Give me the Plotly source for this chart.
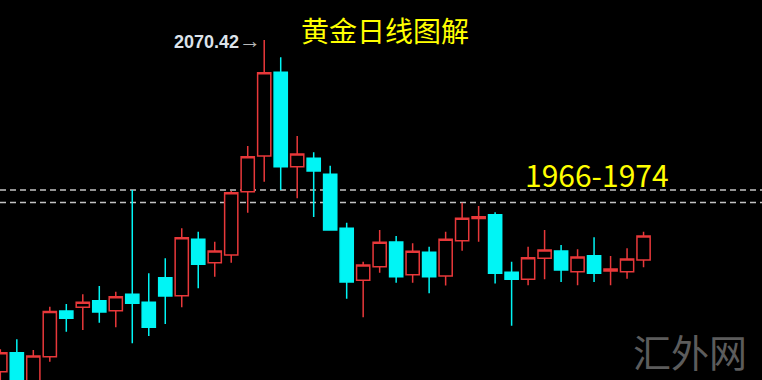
import plotly.graph_objects as go

# Daily gold candles (USD/oz)
opens  = [1857.2, 1869.4, 1845.4, 1866.8, 1896.2, 1898.6, 1902.8, 1896.4, 1906.9, 1901.8,
          1917.6, 1906.0, 1942.3, 1927.3, 1932.2, 1972.9, 1995.9, 2049.7, 1989.0, 1994.4,
          1984.1, 1949.4, 1915.9, 1924.7, 1940.6, 1919.5, 1933.9, 1918.7, 1941.4, 1955.6,
          1958.1, 1921.1, 1916.6, 1930.1, 1934.8, 1921.5, 1931.8, 1921.9, 1921.5, 1929.0]
highs  = [1871.6, 1878.0, 1871.1, 1899.0, 1900.7, 1906.9, 1912.3, 1908.6, 1974.0, 1920.4,
          1930.1, 1949.4, 1947.2, 1940.8, 1973.4, 2002.3, 2070.42, 2059.3, 2008.7, 1998.2,
          1989.6, 1953.0, 1927.9, 1948.3, 1944.4, 1939.7, 1937.5, 1947.2, 1965.8, 1963.7,
          1959.7, 1927.9, 1937.5, 1948.3, 1938.6, 1935.9, 1943.6, 1931.6, 1936.5, 1947.2]
lows   = [1848.6, 1839.0, 1842.2, 1863.6, 1882.9, 1884.0, 1888.7, 1885.7, 1875.4, 1880.1,
          1887.8, 1898.6, 1910.8, 1918.3, 1927.3, 1959.4, 1979.3, 1974.0, 1968.7, 1956.6,
          1947.8, 1904.1, 1892.2, 1920.8, 1914.4, 1914.4, 1907.6, 1912.6, 1935.0, 1940.8,
          1913.8, 1886.7, 1912.7, 1916.6, 1914.8, 1912.7, 1914.8, 1912.7, 1917.0, 1924.3]
closes = [1869.4, 1842.2, 1867.3, 1895.8, 1891.5, 1901.8, 1895.6, 1905.4, 1901.2, 1885.7,
          1905.8, 1943.3, 1926.2, 1934.8, 1972.3, 1995.4, 2049.4, 1989.0, 1997.2, 1986.2,
          1948.3, 1914.8, 1925.8, 1940.4, 1918.3, 1934.6, 1918.3, 1942.3, 1955.8, 1956.8,
          1920.4, 1916.6, 1930.5, 1935.4, 1922.6, 1930.9, 1920.4, 1923.2, 1929.6, 1944.4]
days = list(range(len(opens)))

band_levels = [1974, 1966]
peak_value = 2070.42
peak_day = 16
title_text = "黄金日线图解"
band_text = "1966-1974"
watermark = "汇外网"

RED = "#e8383a"
CYAN = "#00f5f5"

fig = go.Figure(go.Candlestick(
    x=days, open=opens, high=highs, low=lows, close=closes,
    increasing=dict(line=dict(color=RED, width=1.5), fillcolor="#000000"),
    decreasing=dict(line=dict(color=CYAN, width=1.5), fillcolor=CYAN),
    whiskerwidth=0, hoverinfo="skip",
))

for lv in band_levels:
    fig.add_shape(type="line", xref="paper", x0=0, x1=1, yref="y", y0=lv, y1=lv,
                  line=dict(color="#c4c4c4", width=1.5, dash="6px,4px"), layer="below")

fig.add_annotation(x=peak_day, y=peak_value, xref="x", yref="y",
                   text="<b>%.2f</b><span style='color:#b8b8b8;font-size:22px'>→</span>" % peak_value,
                   showarrow=False, xanchor="right", yanchor="middle", xshift=-1,
                   font=dict(family="Liberation Sans, Arial", size=18, color="#dde3ea"))
fig.add_annotation(x=385/762, y=1-30/380, xref="paper", yref="paper", text=title_text,
                   showarrow=False, xanchor="center", yanchor="middle",
                   font=dict(family="Noto Sans CJK SC", size=28, color="#ffff00"))
fig.add_annotation(x=597/762, y=1-174/380, xref="paper", yref="paper", text=band_text,
                   showarrow=False, xanchor="center", yanchor="middle",
                   font=dict(family="Noto Sans CJK SC", size=30, color="#ffff00"))
fig.add_annotation(x=690/762, y=1-350/380, xref="paper", yref="paper", text=watermark,
                   showarrow=False, xanchor="center", yanchor="middle",
                   font=dict(family="Noto Sans CJK SC", size=38, color="#5c5c5c"))

fig.update_layout(
    width=762, height=380, margin=dict(l=0, r=0, t=0, b=0),
    paper_bgcolor="#000000", plot_bgcolor="#000000",
    showlegend=False, hovermode=False,
    boxgap=0.2, boxgroupgap=0,
    xaxis=dict(range=[-0.02, 762/16.5], visible=False, rangeslider=dict(visible=False),
               fixedrange=True),
    yaxis=dict(range=[1851.83, 2096.17], visible=False, fixedrange=True),
)

fig.write_html("out.html")
